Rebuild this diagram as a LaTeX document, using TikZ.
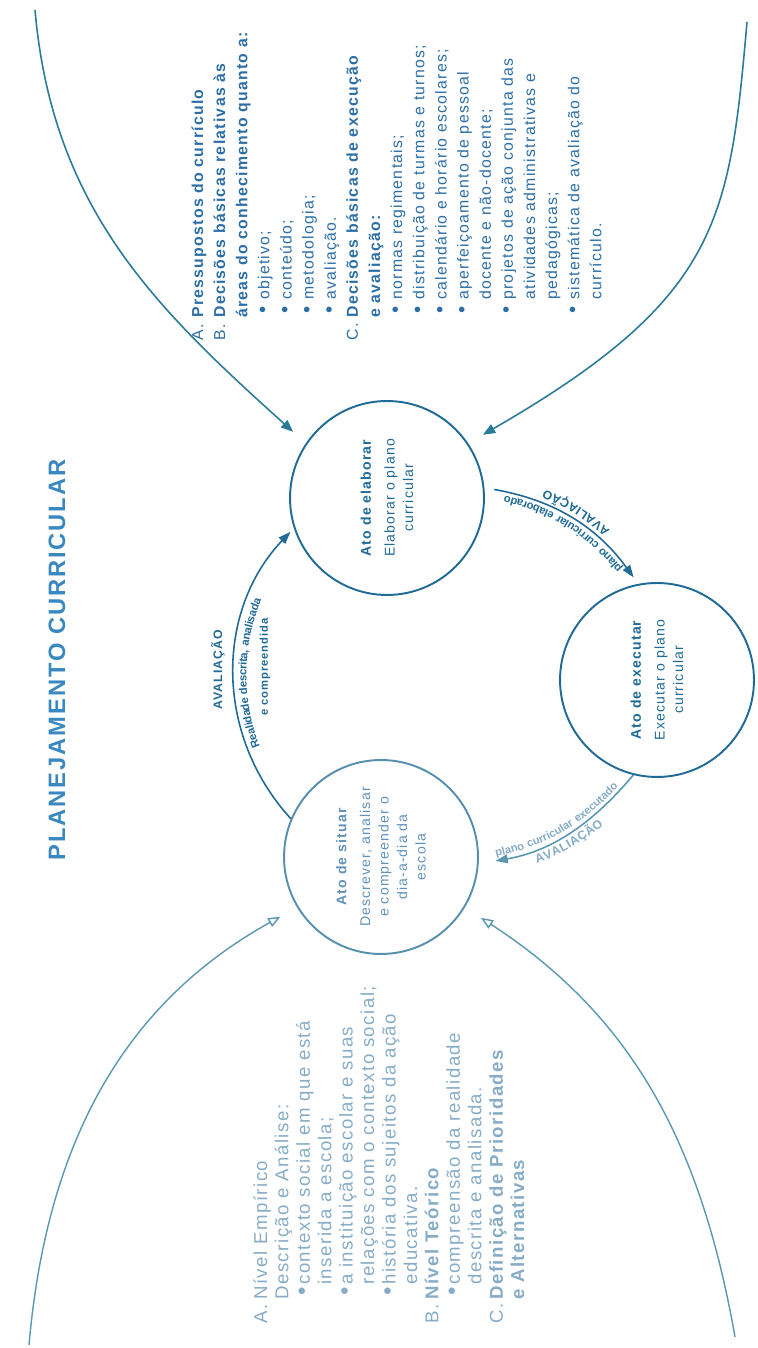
\documentclass[tikz,border=0pt]{standalone}
\usepackage{fontspec}
\usepackage{tikz}
\usetikzlibrary{arrows.meta,decorations.text}
\newfontfamily\diagfont{Liberation Sans}[LetterSpace=8]
\definecolor{CircleBlue}{HTML}{1F6A96}
\definecolor{ArcTeal}{HTML}{2B7A98}
\definecolor{TitleBlue}{HTML}{3A88C0}
\definecolor{ListBlue}{HTML}{2C6EA6}
\definecolor{PaleBlue}{HTML}{86ACC6}
\definecolor{FadedTeal}{HTML}{5A98B2}
\newcommand{\dotitem}{\hspace*{0.08cm}\scalebox{1.3}{\textbullet}}
\tikzset{
  atonode/.style={
    circle,draw=CircleBlue,line width=1.1pt,minimum size=3.88cm,
    inner sep=0pt,rotate=90,align=center,text=CircleBlue,
    font=\diagfont\fontsize{8}{10.5}\selectfont
  },
  listnode/.style={
    rotate=90,anchor=base west,inner sep=0pt,text=ListBlue,
    font=\diagfont\fontsize{9}{12.6}\selectfont
  },
  titlenode/.style={
    rotate=90,inner sep=0pt,text=TitleBlue,
    font=\diagfont\fontsize{13.5}{16}\selectfont\bfseries
  },
  avalnode/.style={
    rotate=90,inner sep=0pt,text=CircleBlue,
    font=\diagfont\fontsize{7}{8}\selectfont\bfseries
  },
  flow/.style={draw=CircleBlue,line width=0.9pt,-{Triangle[length=7pt,width=5pt]}},
  feed/.style={draw=ArcTeal,line width=0.9pt,shorten >=0.34cm,-{Triangle[length=7pt,width=5.5pt]}},
  feedopen/.style={draw=FadedTeal,line width=0.8pt,shorten >=0.38cm,-{Triangle[open,length=7pt,width=5.5pt]}},
  arctext/.style n args={3}{
    decorate,decoration={text along path,text align=center,raise=#1,
      text={|\diagfont\fontsize{6.4}{7}\selectfont\bfseries\color{#2}|#3}}
  },
  avaltext/.style n args={2}{
    decorate,decoration={text along path,text align=center,raise=#1,
      text={|\diagfont\fontsize{7}{8}\selectfont\bfseries\color{#2}|AVALIAÇÃO}}
  },
}
\begin{document}
\begin{tikzpicture}[x=0.02cm,y=0.02cm]
  \useasboundingbox (0,0) rectangle (757,1348);

  \node[titlenode] (titulo) at (57,688) {PLANEJAMENTO CURRICULAR};

  % the three acts
  \node[atonode,draw=CircleBlue!75,text=ListBlue!75] (situar) at (381,491)
    {{\bfseries Ato de situar}\\[3pt]Descrever, analisar\\e compreender o\\dia-a-dia da\\escola};
  \node[atonode] (elaborar) at (387,850)
    {{\bfseries Ato de elaborar}\\[3pt]Elaborar o plano\\curricular};
  \node[atonode] (executar) at (657,668)
    {{\bfseries Ato de executar}\\[3pt]Executar o plano\\curricular};

  % lists
  \node[listnode] (decisoes) at (203,1007) {%
    \begin{tabular}[t]{@{}p{0.46cm}@{}p{0.36cm}@{}l@{}}
      A. & \multicolumn{2}{@{}l@{}}{\bfseries Pressupostos do currículo}\\
      B. & \multicolumn{2}{@{}l@{}}{\bfseries Decisões básicas relativas às}\\
         & \multicolumn{2}{@{}l@{}}{\bfseries áreas do conhecimento quanto a:}\\
         & \dotitem & objetivo;\\
         & \dotitem & conteúdo;\\
         & \dotitem & metodologia;\\
         & \dotitem & avaliação.\\
      C. & \multicolumn{2}{@{}l@{}}{\bfseries Decisões básicas de execução}\\
         & \multicolumn{2}{@{}l@{}}{\bfseries e avaliação:}\\
         & \dotitem & normas regimentais;\\
         & \dotitem & distribuição de turmas e turnos;\\
         & \dotitem & calendário e horário escolares;\\
         & \dotitem & aperfeiçoamento de pessoal\\
         & & docente e não-docente;\\
         & \dotitem & projetos de ação conjunta das\\
         & & atividades administrativas e\\
         & & pedagógicas;\\
         & \dotitem & sistemática de avaliação do\\
         & & currículo.
    \end{tabular}};
  \node[listnode,text=PaleBlue,font=\diagfont\fontsize{10.6}{12.2}\selectfont] (niveis) at (267,24) {%
    \begin{tabular}[t]{@{}p{0.48cm}@{}p{0.3cm}@{}l@{}}
      A. & \multicolumn{2}{@{}l@{}}{Nível Empírico}\\
         & \multicolumn{2}{@{}l@{}}{Descrição e Análise:}\\
         & \dotitem & contexto social em que está\\
         & & inserida a escola;\\
         & \dotitem & a instituição escolar e suas\\
         & & relações com o contexto social;\\
         & \dotitem & história dos sujeitos da ação\\
         & & educativa.\\
      B. & \multicolumn{2}{@{}l@{}}{\bfseries Nível Teórico}\\
         & \dotitem & compreensão da realidade\\
         & & descrita e analisada.\\
      C. & \multicolumn{2}{@{}l@{}}{\bfseries Definição de Prioridades}\\
         & \multicolumn{2}{@{}l@{}}{\bfseries e Alternativas}
    \end{tabular}};

  % big arcs round the lists
  \coordinate (ur) at (35,1338);
  \coordinate (lr) at (747,1326);
  \coordinate (ul) at (29,3);
  \coordinate (ll) at (735,11);
  \draw[feed] (ur) to[out=275,in=138] (elaborar.56);
  \draw[feed] (lr) .. controls +(265:200) and +(30:290) .. (elaborar.-56);
  \draw[feedopen] (ul) to[out=85,in=209] (situar.121);
  \draw[feedopen] (ll) to[out=100,in=327] (situar.-121);

  % cycle between the acts
  \draw[flow,shorten >=0.1cm] (situar.67) to[bend left=43] (elaborar.108);
  \draw[flow,shorten <=0.2cm,shorten >=0.16cm] (elaborar.-84) to[bend left=22] (executar.11);
  \draw[flow,draw=FadedTeal,shorten >=0.34cm] (executar.166) to[bend left=20] (situar.-94);

  \node[avalnode] (aval1) at (218,678) {AVALIAÇÃO};
  \node[avalnode,font=\diagfont\fontsize{6.4}{7}\selectfont\bfseries] (compre) at (265,681) {e compreendida};
  \path[arctext={-7pt}{CircleBlue}{Realidade descrita, analisada}] (situar.67) to[bend left=43] (elaborar.108);
  \path[arctext={2pt}{CircleBlue}{plano curricular elaborado}] (executar.11) to[bend right=22] (elaborar.-84);
  \path[avaltext={-8pt}{CircleBlue}] (executar.11) to[bend right=22] (elaborar.-84);
  \path[arctext={2pt}{PaleBlue}{plano curricular executado}] (situar.-94) to[bend right=20] (executar.166);
  \path[avaltext={-8pt}{PaleBlue}] (situar.-94) to[bend right=20] (executar.166);
\end{tikzpicture}
\end{document}
